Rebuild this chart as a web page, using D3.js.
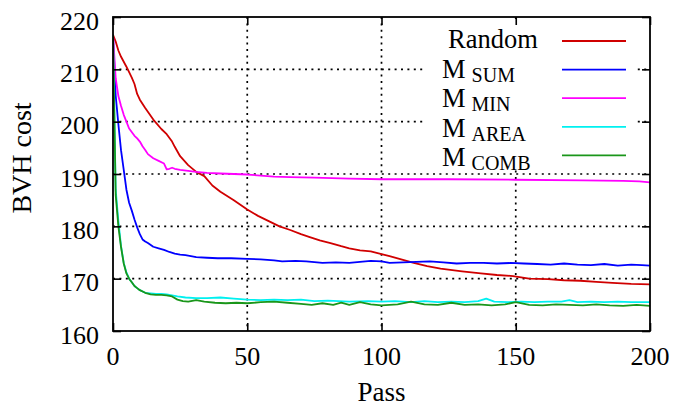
<!DOCTYPE html>
<meta charset="utf-8">
<style>
body { margin: 0; background: #fff; }
text { font-family: "Liberation Serif", "DejaVu Serif", serif; fill: #000; }
.grid line { stroke: #000; stroke-width: 1.7; stroke-dasharray: 2,4.4; }
.series { fill: none; stroke-width: 1.8; stroke-linejoin: round; }
</style>
<svg id="chart" width="676" height="408"></svg>
<script src="https://cdn.jsdelivr.net/npm/d3@7"></script>
<script>

// values: [pass, cost]
var random = [[0,216.6],[1,215.3],[2,213.6],[3,212.4],[5,210.5],[7,208.4],[8,207.2],[9,205.3],[10,204.2],[12,202.6],[15,200.4],[18,198.6],[20,197.6],[22,196.2],[23,195.2],[25,193.4],[28,191.7],[31,190.4],[34,189.6],[37,187.8],[40,186.6],[45,185.0],[50,183.2],[54,182.0],[58,181.0],[62,180.0],[66,179.3],[70,178.5],[73,178.0],[77,177.3],[81,176.8],[85,176.2],[88,175.8],[92,175.4],[96,175.2],[100,174.7],[103,174.3],[108,173.6],[112,173.0],[117,172.4],[122,171.9],[130,171.4],[137,171.0],[143,170.7],[149,170.5],[155,170.0],[162,169.9],[168,169.7],[174,169.6],[180,169.4],[186,169.2],[193,169.0],[200,168.9]];

var mSum = [[0,216.6],[1,205.0],[2,199.5],[3,194.5],[4,190.8],[5,187.0],[6,184.5],[7,183.0],[8,181.3],[9,179.8],[10,178.5],[11,177.5],[12,177.1],[13,176.8],[15,176.1],[17,175.8],[19,175.5],[21,175.1],[23,174.8],[25,174.6],[27,174.5],[31,174.1],[35,174.0],[39,173.9],[44,173.9],[50,173.8],[55,173.7],[60,173.5],[63,173.3],[68,173.4],[72,173.3],[78,173.0],[83,173.1],[88,173.0],[92,173.2],[96,173.4],[100,173.3],[103,173.0],[108,173.1],[113,173.2],[118,173.3],[123,173.1],[128,172.9],[133,173.0],[138,173.0],[143,172.9],[148,173.0],[153,172.9],[158,172.8],[163,172.7],[168,172.9],[173,172.7],[178,172.6],[183,172.8],[188,172.5],[193,172.7],[197,172.6],[200,172.5]];

var mMin = [[0,216.6],[1,208.3],[2,204.9],[3,203.0],[4,201.3],[5,200.0],[6,198.7],[8,197.3],[9,196.8],[10,196.2],[11,195.3],[12,194.6],[13,193.8],[15,193.0],[17,192.5],[19,192.0],[20,190.9],[21,191.0],[22,191.2],[23,191.0],[25,190.8],[28,190.6],[31,190.4],[35,190.2],[40,190.1],[50,189.9],[60,189.5],[66,189.4],[75,189.3],[88,189.1],[100,189.0],[125,189.0],[150,188.9],[175,188.8],[190,188.7],[196,188.6],[200,188.4]];

var mArea = [[0,216.6],[1,187.0],[2,181.0],[3,176.2],[4,173.0],[5,171.2],[6,170.0],[7,169.3],[8,168.6],[9,168.2],[10,167.8],[12,167.3],[14,167.2],[16,167.1],[18,167.1],[20,167.0],[22,166.8],[24,166.6],[27,166.4],[31,166.3],[35,166.3],[40,166.4],[45,166.2],[50,166.0],[55,165.9],[60,166.0],[65,165.9],[70,166.0],[75,165.7],[80,165.8],[88,165.6],[95,165.7],[100,165.6],[105,165.7],[111,165.5],[116,165.7],[121,165.5],[126,165.6],[131,165.5],[136,165.7],[139,166.2],[142,165.6],[147,165.5],[152,165.6],[157,165.5],[162,165.6],[167,165.6],[170,165.9],[173,165.5],[178,165.6],[183,165.5],[188,165.6],[193,165.5],[200,165.5]];

var mComb = [[0,216.6],[1,186.0],[2,180.0],[3,176.0],[4,172.9],[5,171.0],[6,170.0],[7,169.3],[8,168.6],[9,168.2],[10,167.8],[12,167.3],[14,167.0],[16,166.9],[18,166.9],[20,166.8],[22,166.6],[24,166.0],[26,165.7],[28,165.6],[31,165.9],[34,165.6],[38,165.4],[42,165.3],[46,165.4],[50,165.3],[55,165.5],[60,165.6],[65,165.4],[70,165.2],[74,165.0],[78,165.3],[82,165.0],[85,165.4],[88,165.0],[92,165.5],[96,165.1],[100,164.9],[106,165.1],[111,165.6],[116,165.1],[121,165.0],[126,165.4],[131,165.0],[136,165.1],[141,164.9],[146,165.1],[150,165.5],[155,165.0],[160,164.9],[165,165.1],[170,165.0],[175,164.9],[180,165.1],[185,164.9],[190,164.8],[195,165.0],[200,164.8]];

var xTicks = [0, 50, 100, 150, 200];
var yTicks = [160, 170, 180, 190, 200, 210, 220];

var seriesNames = ["Random", "M", "M", "M", "M"];
var seriesSubs = ["", "SUM", "MIN", "AREA", "COMB"];
var seriesColors = ["#d00000", "#0000ff", "#ff00ff", "#00f0f0", "#1a961a"];
var seriesData = [random, mSum, mMin, mArea, mComb];

var svg = d3.select("#chart");
var pLeft = 113, pRight = 650, pTop = 17, pBottom = 331;

var x = d3.scaleLinear().domain([0, 200]).range([pLeft, pRight]);
var y = d3.scaleLinear().domain([160, 220]).range([pBottom, pTop]);

svg.append("clipPath").attr("id", "clip")
  .append("rect").attr("x", pLeft).attr("y", pTop)
    .attr("width", pRight - pLeft).attr("height", pBottom - pTop);

// grid
var grid = svg.append("g").attr("class", "grid");
grid.selectAll(".gx").data(xTicks.slice(1, -1)).enter().append("line")
    .attr("x1", function(d) { return x(d); }).attr("x2", function(d) { return x(d); })
    .attr("y1", pTop).attr("y2", pBottom);
grid.selectAll(".gy").data(yTicks.slice(1, -1)).enter().append("line")
    .attr("x1", pLeft).attr("x2", pRight)
    .attr("y1", function(d) { return y(d); }).attr("y2", function(d) { return y(d); });

// key background (opaque)
svg.append("rect").attr("x", 425).attr("y", 19).attr("width", 212).attr("height", 151)
    .attr("fill", "#fff");

// lines
var line = d3.line().x(function(d) { return x(d[0]); }).y(function(d) { return y(d[1]); });
svg.append("g").attr("clip-path", "url(#clip)")
  .selectAll("path").data(seriesData).enter().append("path")
    .attr("class", "series")
    .attr("stroke", function(d, i) { return seriesColors[i]; })
    .attr("d", line);

// axes with mirrored inward ticks
var tk = 8;
svg.append("g").attr("transform", "translate(0," + pBottom + ")")
    .call(d3.axisTop(x).tickValues(xTicks).tickSize(tk).tickFormat(""));
svg.append("g").attr("transform", "translate(0," + pTop + ")")
    .call(d3.axisBottom(x).tickValues(xTicks).tickSize(tk).tickFormat(""));
svg.append("g").attr("transform", "translate(" + pLeft + ",0)")
    .call(d3.axisRight(y).tickValues(yTicks).tickSize(tk).tickFormat(""));
svg.append("g").attr("transform", "translate(" + pRight + ",0)")
    .call(d3.axisLeft(y).tickValues(yTicks).tickSize(tk).tickFormat(""));
svg.selectAll(".domain").remove();
svg.selectAll(".tick line").attr("stroke", "#000").attr("stroke-width", 1.6);

svg.append("rect").attr("x", pLeft).attr("y", pTop)
    .attr("width", pRight - pLeft).attr("height", pBottom - pTop)
    .attr("fill", "none").attr("stroke", "#000").attr("stroke-width", 1.8);

// tick labels
svg.append("g").selectAll("text").data(xTicks).enter().append("text")
    .attr("x", function(d) { return x(d); }).attr("y", 365)
    .attr("text-anchor", "middle").attr("font-size", 26)
    .text(function(d) { return d; });
svg.append("g").selectAll("text").data(yTicks).enter().append("text")
    .attr("x", 99).attr("y", function(d) { return y(d) + 12.5; })
    .attr("text-anchor", "end").attr("font-size", 26)
    .text(function(d) { return d; });

svg.append("text").attr("x", (pLeft + pRight) / 2).attr("y", 401)
    .attr("text-anchor", "middle").attr("font-size", 27).text("Pass");
svg.append("text").attr("transform", "translate(31,158) rotate(-90)")
    .attr("text-anchor", "middle").attr("font-size", 28).text("BVH cost");

// key
var key = svg.append("g").selectAll("g").data(seriesNames).enter().append("g")
    .attr("transform", function(d, i) { return "translate(0," + (41 + i * 28.6) + ")"; });
key.append("line").attr("x1", 562).attr("x2", 626).attr("y1", 0).attr("y2", 0)
    .attr("stroke", function(d, i) { return seriesColors[i]; }).attr("stroke-width", 1.8);
var kt = key.append("text").attr("y", function(d, i) { return i ? 8 + i * 0.6 : 7; })
    .attr("x", function(d, i) { return i ? 442 : 448; })
    .attr("font-size", 26.5);
kt.append("tspan").text(function(d) { return d; });
kt.append("tspan").attr("dx", 6).attr("dy", 4).attr("font-size", 20)
    .text(function(d, i) { return seriesSubs[i]; });

</script>
